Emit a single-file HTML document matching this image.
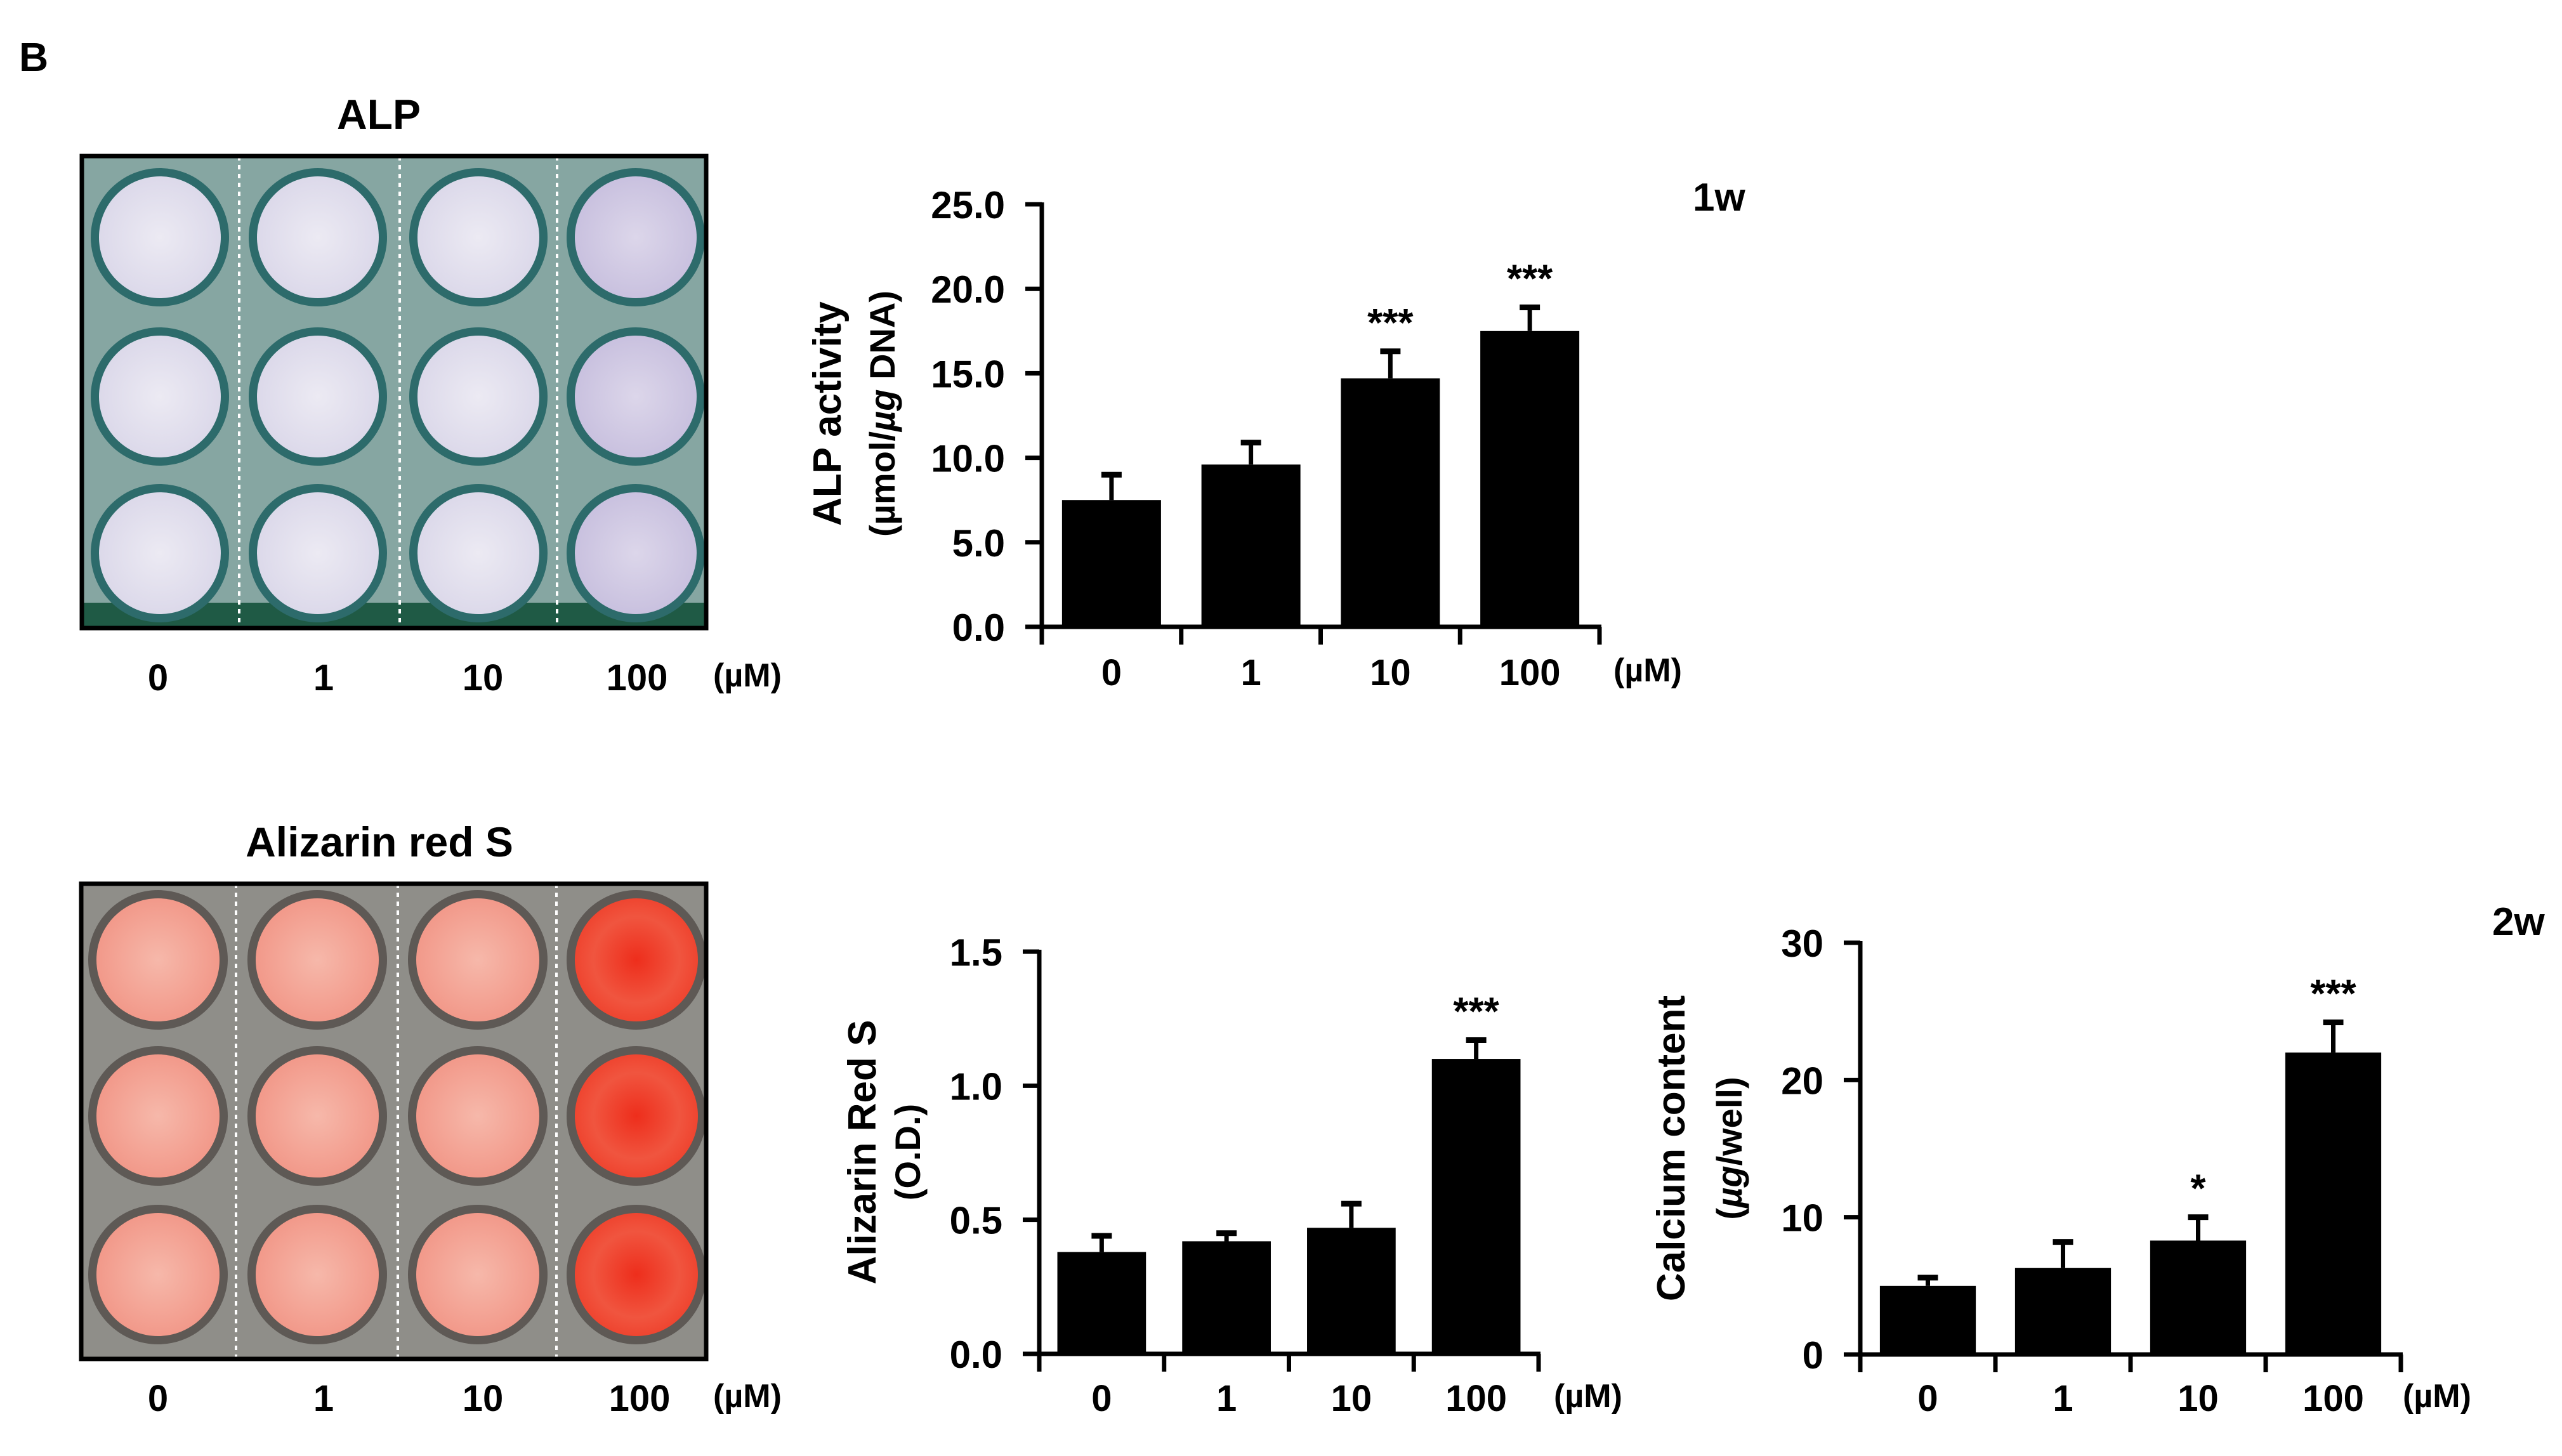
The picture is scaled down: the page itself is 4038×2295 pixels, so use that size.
<!DOCTYPE html>
<html><head><meta charset="utf-8"><style>
html,body{margin:0;padding:0;background:#fff;}
svg{display:block;font-family:"Liberation Sans",Arial,sans-serif;font-weight:bold;}
</style></head><body>
<svg id="fig" width="4038" height="2295" viewBox="0 0 4038 2295" xmlns="http://www.w3.org/2000/svg">
<defs>
<radialGradient id="gAlp" cx="50%" cy="50%" r="50%"><stop offset="0" stop-color="#eceaf3"/><stop offset="1" stop-color="#dcd9ea"/></radialGradient>
<radialGradient id="gAlp4" cx="50%" cy="50%" r="50%"><stop offset="0" stop-color="#dcd6ea"/><stop offset="1" stop-color="#c9c1df"/></radialGradient>
<radialGradient id="gAr" cx="50%" cy="50%" r="50%"><stop offset="0" stop-color="#f6b8aa"/><stop offset="1" stop-color="#f2998a"/></radialGradient>
<radialGradient id="gAr4" cx="50%" cy="50%" r="50%"><stop offset="0" stop-color="#ee2e1c"/><stop offset="0.7" stop-color="#f0553f"/><stop offset="1" stop-color="#ef4530"/></radialGradient>
</defs>
<text x="30" y="112" font-size="64">B</text>
<g id="plates"></g>
<g id="charts"></g>
</svg>
<script>
// ---------- chart data ----------
const categories = ["0","1","10","100"];
const alpValues = [7.5, 9.6, 14.7, 17.5];
const alpErrTop = [9.0, 10.9, 16.3, 18.9];
const alpSig = ["", "", "***", "***"];
const alpTicks = [0, 5, 10, 15, 20, 25];
const alpTickLabels = ["0.0","5.0","10.0","15.0","20.0","25.0"];

const arsValues = [0.38, 0.42, 0.47, 1.10];
const arsErrTop = [0.44, 0.45, 0.56, 1.17];
const arsSig = ["", "", "", "***"];
const arsTicks = [0, 0.5, 1.0, 1.5];
const arsTickLabels = ["0.0","0.5","1.0","1.5"];

const caValues = [5.0, 6.3, 8.3, 22.0];
const caErrTop = [5.6, 8.2, 10.0, 24.2];
const caSig = ["", "", "*", "***"];
const caTicks = [0, 10, 20, 30];
const caTickLabels = ["0","10","20","30"];

const NS = "http://www.w3.org/2000/svg";
function mk(tag, attrs, parent, txt){
  const e = document.createElementNS(NS, tag);
  for (const k in attrs) e.setAttribute(k, attrs[k]);
  if (txt !== undefined) e.textContent = txt;
  parent.appendChild(e);
  return e;
}

function drawChart(g, opt, values, errTop, sig, ticks, tickLabels){
  const x0 = opt.x0, x1 = opt.x1, yTop = opt.yTop, yBot = opt.yBot, vmax = opt.vmax;
  const yS = v => yBot - (v / vmax) * (yBot - yTop);
  const slot = (x1 - x0) / categories.length;
  const xC = i => x0 + slot * (i + 0.5);
  const bw = slot * 0.71;
  values.forEach((v, i) => {
    const eb = mk('line', {x1: xC(i), x2: xC(i), y1: yS(v), y2: yS(errTop[i]), stroke:'#000','stroke-width':7}, g);
    
    
    const cap = mk('line', {x1: xC(i)-16, x2: xC(i)+16, y1: yS(errTop[i]), y2: yS(errTop[i]), stroke:'#000','stroke-width':9}, g);
    
    
    const r = mk('rect', {x: xC(i)-bw/2, y: yS(v), width: bw, height: yBot - yS(v), fill:'#000'}, g);
    
    
    if (sig[i]) {
      const s = mk('text', {x: xC(i), y: yS(errTop[i]) - 24, 'font-size': 62, 'text-anchor':'middle'}, g, sig[i]);
      
      
    }
    const l = mk('text', {x: xC(i), y: opt.labY, 'font-size': 58, 'text-anchor':'middle'}, g, categories[i]);
    
    
  });
  const ya = mk('line', {x1: x0, x2: x0, y1: yTop - 3, y2: yBot + 28, stroke:'#000','stroke-width':7}, g);
  
  
  const xa = mk('line', {x1: x0 - 26, x2: x1 + 3, y1: yBot, y2: yBot, stroke:'#000','stroke-width':7}, g);
  
  
  for (let i = 1; i <= categories.length; i++) {
    const t = mk('line', {x1: x0 + slot*i, x2: x0 + slot*i, y1: yBot, y2: yBot + 28, stroke:'#000','stroke-width':7}, g);
    
    
  }
  ticks.forEach((t, i) => {
    const tk = mk('line', {x1: x0 - 26, x2: x0, y1: yS(t), y2: yS(t), stroke:'#000','stroke-width':7}, g);
    
    
    const tl = mk('text', {x: x0 - 58, y: yS(t) + 22, 'font-size': 60, 'text-anchor':'end'}, g, tickLabels[i]);
    
    
  });
  const u = mk('text', {x: opt.unitX, y: opt.labY - 6, 'font-size': 52, 'text-anchor':'middle'}, g, '(\u00b5M)');
  
  
  const t1 = mk('text', {transform:`translate(${opt.t1x},${opt.ty}) rotate(-90)`, 'font-size': 62, 'text-anchor':'middle'}, g, opt.title1);
  
  
  const t2 = mk('text', {transform:`translate(${opt.t2x},${opt.ty}) rotate(-90)`, 'font-size': 56, 'text-anchor':'middle'}, g);
  
  
  opt.title2.forEach(p => { mk('tspan', p[1] ? {'font-style':'italic'} : {}, t2, p[0]); });
}

const charts = document.getElementById('charts');
const gA = mk('g', {}, charts);


drawChart(gA, {x0:1642, x1:2521, yTop:322, yBot:988, vmax:25, labY:1080, unitX:2597,
  t1x:1325, t2x:1410, ty:652, title1:'ALP activity', title2:[['(\u00b5mol/',0],['\u00b5g',1],[' DNA)',0]]},
  alpValues, alpErrTop, alpSig, alpTicks, alpTickLabels);

const gB = mk('g', {}, charts);


drawChart(gB, {x0:1638, x1:2425, yTop:1500, yBot:2134, vmax:1.5, labY:2224, unitX:2503,
  t1x:1380, t2x:1450, ty:1816, title1:'Alizarin Red S', title2:[['(O.D.)',0]]},
  arsValues, arsErrTop, arsSig, arsTicks, arsTickLabels);

const gC = mk('g', {}, charts);


drawChart(gC, {x0:2932, x1:3784, yTop:1486, yBot:2135, vmax:30, labY:2224, unitX:3841,
  t1x:2655, t2x:2745, ty:1810, title1:'Calcium content', title2:[['(',0],['\u00b5g',1],['/well)',0]]},
  caValues, caErrTop, caSig, caTicks, caTickLabels);

const w1 = mk('text', {x:2668, y:332, 'font-size':62}, charts, '1w');


const w2 = mk('text', {x:3928, y:1474, 'font-size':62}, charts, '2w');



// ---------- plate photos ----------
const plates = document.getElementById('plates');
function drawPlate(p){
  const g = mk('g', {}, plates);
  
  
  mk('rect', {x:p.x, y:p.y, width:p.w, height:p.h, fill:p.bg}, g);
  if (p.stripe) mk('rect', {x:p.x, y:p.y+p.h-40, width:p.w, height:40, fill:p.stripe}, g);
  p.rows.forEach(ry => p.cols.forEach((cx, ci) => {
    const w = mk('circle', {cx:cx, cy:ry, r:p.r+13, fill:p.ring}, g);
    
    
    mk('circle', {cx:cx, cy:ry, r:p.r, fill: ci === 3 ? p.fill4 : p.fill}, g);
  }));
  p.divs.forEach(dx => mk('line', {x1:dx, x2:dx, y1:p.y, y2:p.y+p.h, stroke:'#fff','stroke-width':4,'stroke-dasharray':'7 7'}, g));
  mk('rect', {x:p.x, y:p.y, width:p.w, height:p.h, fill:'none', stroke:'#000','stroke-width':7}, g);
  const tt = mk('text', {x:p.tx, y:p.ty, 'font-size':66, 'text-anchor':'middle'}, g, p.title);
  
  
  p.labX.forEach((lx, i) => {
    const l = mk('text', {x:lx, y:p.labY, 'font-size':58, 'text-anchor':'middle'}, g, categories[i]);
    
    
  });
  const u = mk('text', {x:p.unitX, y:p.labY - 6, 'font-size':52, 'text-anchor':'middle'}, g, '(\u00b5M)');
  
  
}
drawPlate({name:'alp-stain-plate', x:129, y:246, w:984, h:744, bg:'#86a6a2', stripe:'#1f5a45', ring:'#2d6b6b',
  fill:'url(#gAlp)', fill4:'url(#gAlp4)', r:96, cols:[252,501,754,1002], rows:[374,625,872],
  divs:[377,630,878], title:'ALP', tx:597, ty:203, labX:[249,510,761,1004], labY:1088, unitX:1178});
drawPlate({name:'alizarin-stain-plate', x:128, y:1393, w:985, h:749, bg:'#8f8e89', stripe:null, ring:'#5e5955',
  fill:'url(#gAr)', fill4:'url(#gAr4)', r:97, cols:[249,500,753,1003], rows:[1513,1759,2009],
  divs:[372,627,877], title:'Alizarin red S', tx:598, ty:1350, labX:[249,510,761,1008], labY:2224, unitX:1178});
</script>
</body></html>
